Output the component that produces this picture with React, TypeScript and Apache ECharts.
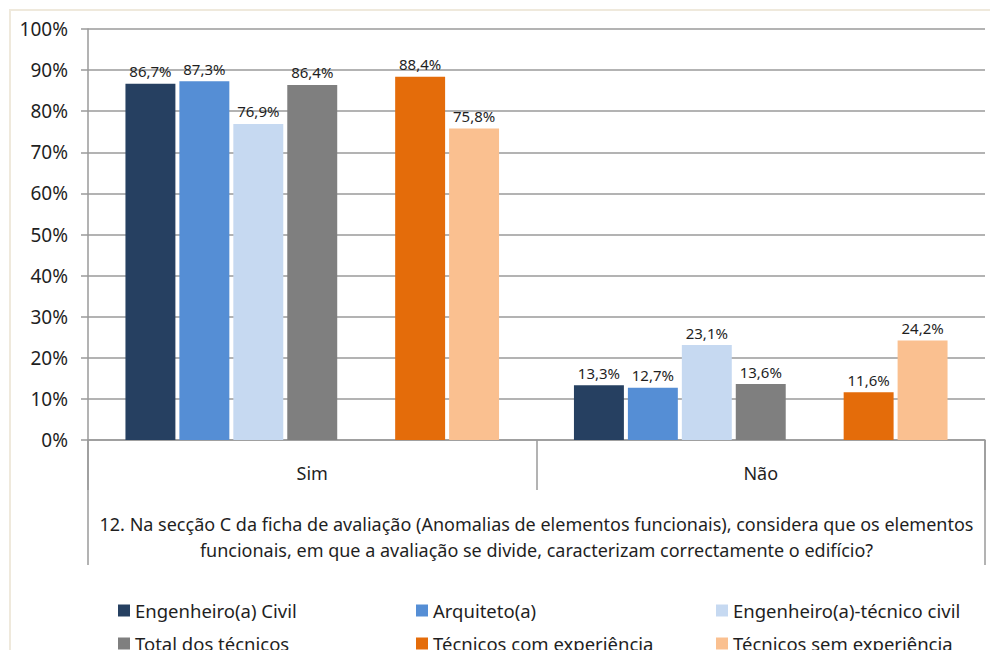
import React, { useEffect, useRef } from "react";
import * as echarts from "echarts";

const categories = ["Sim", "Não"];
const seriesNames = [
  "Engenheiro(a) Civil",
  "Arquiteto(a)",
  "Engenheiro(a)-técnico civil",
  "Total dos técnicos",
  "Técnicos com experiência",
  "Técnicos sem experiência",
];
const seriesColors = ["#264061", "#558ed5", "#c6d9f1", "#7f7f7f", "#e46c0a", "#fac090"];
const engCivil = [86.7, 13.3];
const arquiteto = [87.3, 12.7];
const engTecnico = [76.9, 23.1];
const totalTecnicos = [86.4, 13.6];
const comExperiencia = [88.4, 11.6];
const semExperiencia = [75.8, 24.2];
const yTicks = [0, 10, 20, 30, 40, 50, 60, 70, 80, 90, 100];
const questionLines = [
  "12. Na secção C da ficha de avaliação (Anomalias de elementos funcionais), considera que os elementos",
  "funcionais, em que a avaliação se divide, caracterizam correctamente o edifício?",
];

const FONT = "'Noto Sans', 'Open Sans', sans-serif";
const TEXT = "#1f1f1f";
const LINE = "#9a9a9a";

const GRID_LEFT = 88;
const GRID_RIGHT = 5;
const GRID_TOP = 29;
const GRID_BOTTOM = 210;
const W = 990;
const H = 650;

export default function App() {
  const ref = useRef<HTMLDivElement>(null);

  useEffect(() => {
    if (!ref.current) return;
    const chart = echarts.init(ref.current, undefined, { renderer: "svg" });

    const values = [engCivil, arquiteto, engTecnico, totalTecnicos, comExperiencia, semExperiencia];
    const fmt = (v: number) => v.toFixed(1).replace(".", ",") + "%";

    const makeBar = (i: number) => ({
      name: seriesNames[i],
      type: "bar",
      data: values[i],
      itemStyle: { color: seriesColors[i] },
      label: {
        show: true,
        position: "top",
        distance: 5,
        color: TEXT,
        fontFamily: FONT,
        fontSize: 15,
        formatter: (p: any) => fmt(p.value),
      },
      barGap: "8%",
      barCategoryGap: "16.7%",
    });

    const series: any[] = [makeBar(0), makeBar(1), makeBar(2), makeBar(3)];
    // empty slot separating the totals from the experience groups
    series.push({
      name: "",
      type: "bar",
      data: categories.map(() => "-"),
      barGap: "8%",
      barCategoryGap: "16.7%",
    });
    series.push(makeBar(4), makeBar(5));

    const plotBottom = H - GRID_BOTTOM;
    const plotRight = W - GRID_RIGHT;
    const centerX = (GRID_LEFT + plotRight) / 2;

    const legendCol = (names: string[], left: number) => ({
      orient: "vertical",
      left,
      top: 596,
      height: 120,
      itemWidth: 12,
      itemHeight: 12,
      itemGap: 14,
      icon: "rect",
      data: names,
      textStyle: { color: TEXT, fontFamily: FONT, fontSize: 18.5 },
      selectedMode: false,
    });

    chart.setOption({
      animation: false,
      backgroundColor: "#ffffff",
      grid: { left: GRID_LEFT, right: GRID_RIGHT, top: GRID_TOP, bottom: GRID_BOTTOM },
      legend: [
        legendCol([seriesNames[0], seriesNames[3]], 113),
        legendCol([seriesNames[1], seriesNames[4]], 411),
        legendCol([seriesNames[2], seriesNames[5]], 711),
      ],
      xAxis: {
        type: "category",
        data: categories,
        axisLine: { lineStyle: { color: LINE, width: 1.5 } },
        axisTick: { show: true, interval: 0, length: 50, lineStyle: { color: LINE, width: 1.5 } },
        axisLabel: { color: TEXT, fontFamily: FONT, fontSize: 18, margin: 24 },
      },
      yAxis: {
        type: "value",
        min: yTicks[0],
        max: yTicks[yTicks.length - 1],
        interval: yTicks[1] - yTicks[0],
        axisLine: { show: true, lineStyle: { color: LINE, width: 1.5 } },
        axisTick: { show: true, length: 7, lineStyle: { color: LINE, width: 1.5 } },
        splitLine: { show: true, lineStyle: { color: LINE, width: 1.5 } },
        axisLabel: {
          color: TEXT,
          fontFamily: FONT,
          fontSize: 19,
          margin: 20,
          formatter: (v: number) => v + "%",
        },
      },
      series,
      graphic: [
        {
          type: "rect",
          silent: true,
          shape: { x: 10, y: 10, width: 1000, height: 700 },
          style: { fill: "none", stroke: "#efe9dc", lineWidth: 2 },
        },
        {
          type: "line",
          silent: true,
          shape: { x1: GRID_LEFT, y1: plotBottom, x2: GRID_LEFT, y2: 565 },
          style: { stroke: LINE, lineWidth: 1.5 },
        },
        {
          type: "line",
          silent: true,
          shape: { x1: plotRight, y1: plotBottom, x2: plotRight, y2: 565 },
          style: { stroke: LINE, lineWidth: 1.5 },
        },
        {
          type: "text",
          silent: true,
          x: centerX,
          y: 511,
          style: {
            text: questionLines.join("\n"),
            textAlign: "center",
            fill: TEXT,
            fontFamily: FONT,
            fontSize: 18,
            lineHeight: 26,
          },
        },
      ],
    });

    return () => chart.dispose();
  }, []);

  return (
    <div
      ref={ref}
      style={{ position: "fixed", left: 0, top: 0, width: W, height: H, background: "#fff" }}
    />
  );
}
